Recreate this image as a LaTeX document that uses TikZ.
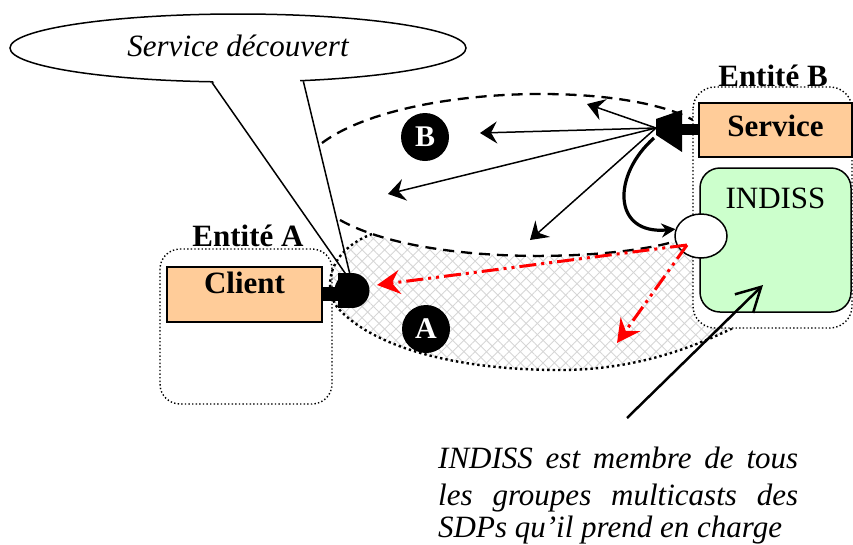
\documentclass[tikz,border=0pt]{standalone}
\usepackage{fontspec}
\setmainfont{Liberation Serif}
\usetikzlibrary{arrows.meta,patterns.meta,shapes.geometric}
\definecolor{orangebox}{HTML}{FFCC99}
\definecolor{greenbox}{HTML}{CCFFCC}
\definecolor{hatchgray}{HTML}{D6D6D6}
\begin{document}
\begin{tikzpicture}[x=1pt,y=-1pt,
  big/.style={font=\fontsize{31}{35}\selectfont},
  bigbold/.style={font=\fontsize{31}{35}\selectfont\bfseries},
  bigit/.style={font=\fontsize{31}{35}\selectfont\itshape},
  cbox/.style={draw=black,line width=1.5pt,inner sep=0pt},
  edot/.style={draw=black,line width=1.4pt,dash pattern=on 1.4pt off 2.2pt},
  adot/.style={draw=black,line width=2.4pt,dash pattern=on 2.4pt off 3pt},
  bdash/.style={draw=black,line width=2.3pt,dash pattern=on 11pt off 7pt},
  thinarr/.style={draw=black,line width=1.5pt,-{Stealth[length=17pt,width=22pt,inset=6pt]}},
  redarr/.style={draw=red,line width=3pt,dash pattern=on 17pt off 5pt on 3pt off 5pt on 3pt off 5pt,-{Stealth[length=23pt,width=24pt,inset=8pt]}},
  letter/.style={circle,fill=black,minimum size=48pt,inner sep=0pt,text=white,font=\fontsize{30}{30}\selectfont\bfseries},
  ]
\useasboundingbox (0,0) rectangle (853,544);

% hatched region A
\path[pattern={Lines[angle=45,distance=8pt,line width=0.9pt]},pattern color=hatchgray]
  (372,234) .. controls (330,250) and (322,285) .. (337,307)
  .. controls (370,345) and (450,370) .. (560,370)
  .. controls (640,370) and (700,345) .. (745,322)
  -- (760,322) -- (760,200) -- (372,200) -- cycle;
\path[pattern={Lines[angle=-45,distance=8pt,line width=0.9pt]},pattern color=hatchgray]
  (372,234) .. controls (330,250) and (322,285) .. (337,307)
  .. controls (370,345) and (450,370) .. (560,370)
  .. controls (640,370) and (700,345) .. (745,322)
  -- (760,322) -- (760,200) -- (372,200) -- cycle;

% region B (white)
\fill[white] (315,143) -- (322,143) .. controls (400,85) and (620,80) .. (693,120)
  -- (705,120) -- (705,242) -- (673,242)
  .. controls (600,262) and (420,265) .. (340,220) -- (333,220) -- cycle;

% callout
\node[ellipse,draw=black,line width=1.5pt,fill=white,minimum width=456pt,minimum height=68pt,
  inner sep=0pt,text height=24pt,text depth=8pt,bigit] (callout) at (238,48) {Service découvert};
\coordinate (tip) at (352,283);
\coordinate (tl) at (callout.233.5);
\coordinate (tr) at (callout.-27.8);
\fill[white] (211,78) -- (tip) -- (299,77) -- cycle;
\draw[line width=1.5pt] (tl) -- (tip) -- (tr);

% region A border
\path[adot] (372,234) .. controls (330,250) and (322,285) .. (337,307)
  .. controls (370,345) and (450,370) .. (560,370)
  .. controls (640,370) and (700,345) .. (745,322);

% region B dashed border
\path[bdash] (322,143) .. controls (400,85) and (620,80) .. (693,120);
\path[bdash] (340,220) .. controls (420,265) and (600,262) .. (673,242);

% Entite A
\path[edot,rounded corners=20pt] (160,249) rectangle (332,404);
\node[bigbold,anchor=base,inner sep=0pt] (entA) at (248,246) {Entité A};
\node[cbox,fill=orangebox,minimum width=155pt,minimum height=55pt,text height=26pt,text depth=29pt,bigbold]
  (client) at (244.5,294.5) {Client};
\fill[black] (client.east |- 0,287) rectangle (340,301);
\fill[black] (338,273) rectangle (352,308);
\fill[black] (352,290.5) circle[radius=17.5pt];

% Entite B
\path[edot,fill=white,rounded corners=22pt] (693,87) rectangle (852,328);
\node[bigbold,anchor=base,inner sep=0pt] (entB) at (773,86) {Entité B};
\node[cbox,fill=orangebox,minimum width=153pt,minimum height=54pt,text height=33pt,text depth=21pt,bigbold]
  (service) at (775.5,130) {Service};
\node[cbox,fill=greenbox,rounded corners=20pt,minimum width=151pt,minimum height=144pt,text height=40pt,text depth=104pt,big]
  (indiss) at (775.5,240) {INDISS};
\node[ellipse,draw=black,line width=1.5pt,fill=white,minimum width=52pt,minimum height=44pt,inner sep=0pt]
  (port) at (701,236) {};

% service connector
\fill[black] (656,119) -- (682,110) -- (682,152) -- (656,135) -- cycle;
\fill[black] (681,124) rectangle (service.west |- 0,135);
\coordinate (src) at (656,128);
\coordinate (fb) at (654,138);

% broadcast arrows
\coordinate (e1) at (587,104);
\coordinate (e2) at (480,133);
\coordinate (e3) at (388,194);
\coordinate (e4) at (530,240);
\draw[thinarr] (src) -- (e1);
\draw[thinarr] (src) -- (e2);
\draw[thinarr] (src) -- (e3);
\draw[thinarr] (src) -- (e4);

% thick curve to port
\draw[line width=3.2pt,-{Stealth[length=14pt,width=14pt]}] (fb) .. controls (612,175) and (612,235) .. (port.165);

% red arrows
\coordinate (rs) at (687,245);
\coordinate (r1) at (377,285);
\coordinate (r2) at (617,343);
\draw[redarr] (rs) -- (r1);
\draw[redarr] (rs) -- (r2);

% labels A and B
\node[letter] (lB) at (425,137) {B};
\node[letter] (lA) at (426,329) {A};

% pointer
\coordinate (pt) at (627,418);
\coordinate (ptip) at (763,285);
\draw[line width=2.5pt,-{Straight Barb[length=24pt,width=26pt]}] (pt) -- (ptip);

% note
\node[bigit,anchor=base west,inner sep=0pt] (n1) at (438,468) {\makebox[360pt][s]{INDISS est membre de tous}};
\node[bigit,anchor=base west,inner sep=0pt] (n2) at (438,505) {\makebox[360pt][s]{les groupes multicasts des}};
\node[bigit,anchor=base west,inner sep=0pt] (n3) at (438,537) {SDPs qu’il prend en charge};
\end{tikzpicture}
\end{document}
